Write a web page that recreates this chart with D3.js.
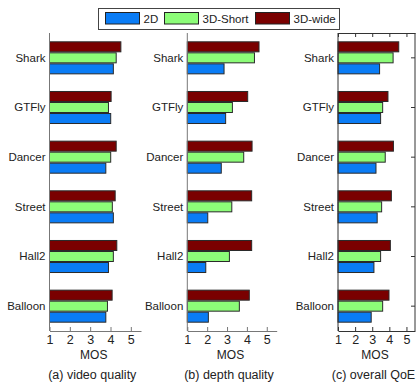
<!DOCTYPE html>
<html><head><meta charset="utf-8">
<script src="https://cdn.jsdelivr.net/npm/d3@7"></script>
<style>body{margin:0;background:#fff}svg{display:block}text{font-family:"Liberation Sans",Arial,sans-serif;fill:#222}</style>
</head><body><svg id="c" width="420" height="390"></svg>
<script>
const categories = ["Shark","GTFly","Dancer","Street","Hall2","Balloon"];
const seriesNames = ["2D","3D-Short","3D-wide"];
const seriesColors = ["#0a7cf5","#8cfc78","#7a0000"];
const ticks = [1,2,3,4,5];
const videoQuality = {
  "2D":      [4.14,4.01,3.77,4.14,3.90,3.77],
  "3D-Short":[4.28,3.90,4.01,4.09,4.14,3.85],
  "3D-wide": [4.51,4.03,4.28,4.23,4.31,4.08]
};
const depthQuality = {
  "2D":      [2.85,2.93,2.71,2.03,1.93,2.06],
  "3D-Short":[4.38,3.27,3.84,3.24,3.12,3.62],
  "3D-wide": [4.61,4.04,4.26,4.24,4.24,4.12]
};
const overallQoE = {
  "2D":      [3.43,3.49,3.22,3.29,3.10,2.94],
  "3D-Short":[4.22,3.61,3.76,3.55,3.49,3.61],
  "3D-wide": [4.55,3.92,4.24,4.12,4.06,3.98]
};
const panels = [
  {title:"(a) video quality", data:videoQuality, x0:49.5, x1:141, box:false},
  {title:"(b) depth quality", data:depthQuality, x0:187.3, x1:276.7, box:false},
  {title:"(c) overall QoE", data:overallQoE, x0:338, x1:415, box:true}
];
const plotTop = 33, plotBottom = 331;
const svg = d3.select("#c");
const color = d3.scaleOrdinal().domain(seriesNames).range(seriesColors);
const y = d3.scaleBand().domain(categories).range([plotTop,plotBottom]).paddingInner(0.335).paddingOuter(0.1675);
const sub = d3.scaleBand().domain(["3D-wide","3D-Short","2D"]).range([0,y.bandwidth()]);

panels.forEach(p=>{
  const x = d3.scaleLinear().domain([1,5.5]).range([p.x0,p.x1]);
  const g = svg.append("g");
  categories.forEach((c,i)=>{
    const gg = g.append("g").attr("transform",`translate(0,${y(c)})`);
    gg.selectAll("rect").data(seriesNames).join("rect")
      .attr("x",x(1)).attr("y",s=>sub(s)+0.5)
      .attr("width",s=>x(p.data[s][i])-x(1))
      .attr("height",sub.bandwidth()-1)
      .attr("fill",s=>color(s)).attr("stroke","#2a2a2a").attr("stroke-width",1);
  });
  const axCol = p.box ? "#333" : "#777";
  const xb = d3.axisBottom(x).tickValues(ticks).tickFormat(d3.format("d")).tickSizeInner(-4).tickSizeOuter(0).tickPadding(4);
  const ga = g.append("g").attr("transform",`translate(0,${plotBottom})`).call(xb);
  ga.select(".domain").attr("stroke",axCol);
  ga.selectAll(".tick line").attr("stroke",axCol);
  ga.selectAll(".tick text").attr("font-size",12.5).attr("font-family","Liberation Sans, Arial, sans-serif").attr("fill","#222");
  const yl = d3.axisLeft(y).tickSize(0).tickPadding(4);
  const gl = g.append("g").attr("transform",`translate(${x(1)},0)`).call(yl);
  gl.select(".domain").attr("stroke",axCol).attr("d",`M0,${plotTop}V${plotBottom}`);
  gl.selectAll(".tick text").attr("font-size",11.5).attr("font-family","Liberation Sans, Arial, sans-serif").attr("fill","#222");
  if(p.box){
    const xt = d3.axisTop(x).tickValues(ticks).tickSizeInner(-4).tickSizeOuter(0).tickFormat("");
    const gt = g.append("g").attr("transform",`translate(0,${plotTop})`).call(xt);
    gt.selectAll("path,line").attr("stroke",axCol);
    const yr = d3.axisRight(y).tickSizeInner(-4).tickSizeOuter(0).tickFormat("");
    const gr = g.append("g").attr("transform",`translate(${p.x1},0)`).call(yr);
    gr.selectAll("path,line").attr("stroke",axCol);
    gr.select(".domain").attr("d",`M0,${plotTop}V${plotBottom}`);
  }
  const cx = (p.x0+p.x1)/2;
  g.append("text").attr("x",cx-1.5).attr("y",359).attr("text-anchor","middle").attr("font-size",12).text("MOS");
  g.append("text").attr("x",cx-3).attr("y",379).attr("text-anchor","middle").attr("font-size",12.5).text(p.title);
});

const lg = svg.append("g");
lg.append("rect").attr("x",98.5).attr("y",8.5).attr("width",241).attr("height",21).attr("fill","#fff").attr("stroke","#444");
const legX = [105.5,164.5,255.5];
seriesNames.forEach((s,i)=>{
  lg.append("rect").attr("x",legX[i]).attr("y",12.5).attr("width",34).attr("height",11.5)
    .attr("fill",color(s)).attr("stroke","#222");
  lg.append("text").attr("x",legX[i]+38).attr("y",23).attr("font-size",11.5).text(s);
});
</script></body></html>
